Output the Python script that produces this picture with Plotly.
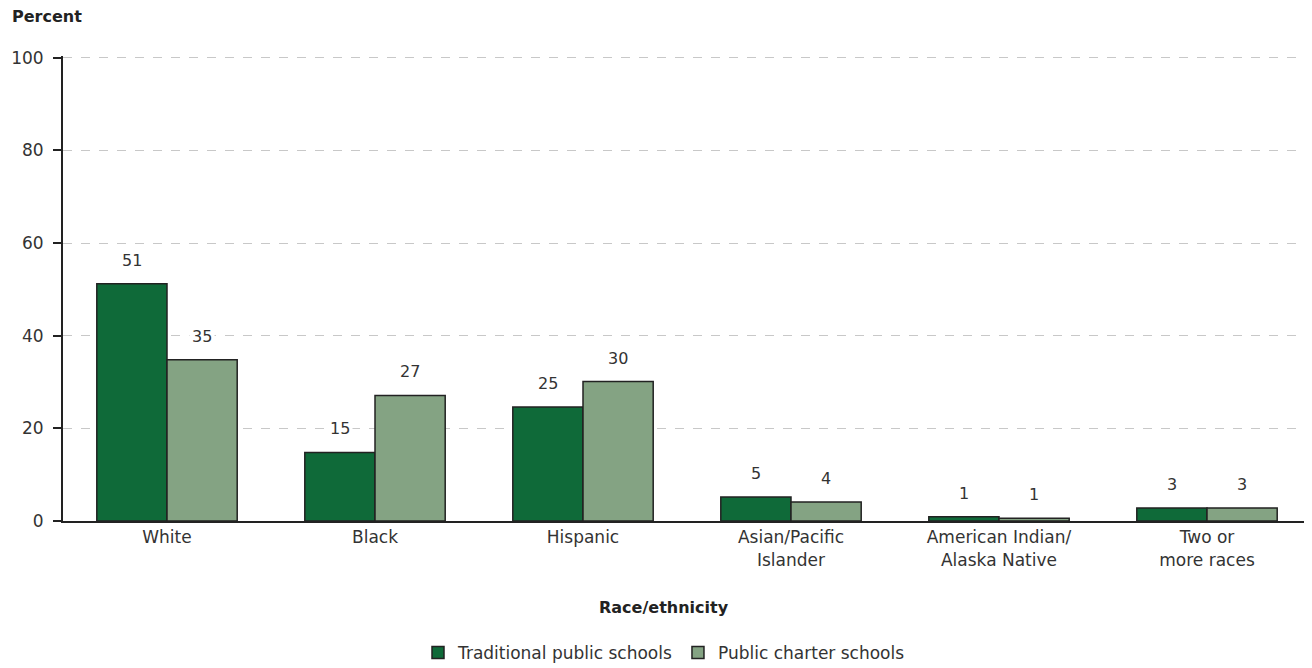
import plotly.graph_objects as go

categories = ["White", "Black", "Hispanic", "Asian/Pacific<br>Islander",
              "American Indian/<br>Alaska Native", "Two or<br>more races"]
traditional = [51.2, 14.8, 24.6, 5.2, 0.9, 2.8]
charter = [34.8, 27.1, 30.1, 4.1, 0.6, 2.8]
traditional_labels = ["51", "15", "25", "5", "1", "3"]
charter_labels = ["35", "27", "30", "4", "1", "3"]
y_ticks = [0, 20, 40, 60, 80, 100]

FONT = "DejaVu Sans"
TRAD_COLOR = "#0F6A39"
CHARTER_COLOR = "#84A383"
EDGE = "#222222"
TXT = "#333333"

# page body has an 8px default margin; size the figure to fit the window
OFF = 8
W, H = 1312 - OFF, 668 - OFF
PL, PT, PR, PB = 63, 56, 1311, 521  # plot-area edges in window pixels
pw, ph = PR - PL, PB - PT

fig = go.Figure()
fig.add_trace(go.Bar(x=categories, y=traditional, name="Traditional public schools",
                     marker=dict(color=TRAD_COLOR, line=dict(color=EDGE, width=1.5))))
fig.add_trace(go.Bar(x=categories, y=charter, name="Public charter schools",
                     marker=dict(color=CHARTER_COLOR, line=dict(color=EDGE, width=1.5))))

annotations = []
for c, v, t in zip(categories, traditional, traditional_labels):
    annotations.append(dict(x=c, y=v, text=t, xref="x", yref="y", showarrow=False,
                            xshift=-35, yshift=11, yanchor="bottom", bgcolor="white",
                            borderpad=2, font=dict(family=FONT, size=16, color=TXT)))
for c, v, t in zip(categories, charter, charter_labels):
    annotations.append(dict(x=c, y=v, text=t, xref="x", yref="y", showarrow=False,
                            xshift=35, yshift=11, yanchor="bottom", bgcolor="white",
                            borderpad=2, font=dict(family=FONT, size=16, color=TXT)))
annotations.append(dict(x=(10 - PL) / pw, y=(PB - 17) / ph, xref="paper", yref="paper",
                        xanchor="left", yanchor="middle", text="<b>Percent</b>",
                        showarrow=False, font=dict(family=FONT, size=16, color="#222")))
annotations.append(dict(x=(664 - PL) / pw, y=(PB - 607) / ph, xref="paper", yref="paper",
                        xanchor="center", yanchor="middle", text="<b>Race/ethnicity</b>",
                        showarrow=False, font=dict(family=FONT, size=16, color="#222")))

fig.update_layout(
    width=W, height=H,
    margin=dict(l=PL - OFF, r=1, t=PT - OFF, b=H - (PB - OFF), autoexpand=False),
    paper_bgcolor="white", plot_bgcolor="white",
    barmode="group", bargap=0.325, bargroupgap=0,
    font=dict(family=FONT, size=16, color=TXT),
    annotations=annotations,
    showlegend=True,
    legend=dict(orientation="h", x=(664 - PL) / pw, xanchor="center",
                y=(PB - 653) / ph, yanchor="middle",
                font=dict(family=FONT, size=17, color=TXT),
                tracegroupgap=0),
    xaxis=dict(showline=True, linecolor="#222", linewidth=2, ticks="",
               tickfont=dict(family=FONT, size=17, color=TXT), showgrid=False),
    yaxis=dict(range=[0, 100.4], tickvals=y_ticks, showline=True, linecolor="#222",
               linewidth=2, ticks="outside", ticklen=8, tickwidth=2, tickcolor="#222",
               ticklabelstandoff=6,
               showgrid=True, gridcolor="#C8C8C8", griddash="dash", gridwidth=1,
               zeroline=False, tickfont=dict(family=FONT, size=17, color=TXT)),
)

fig.write_html("out.html")
